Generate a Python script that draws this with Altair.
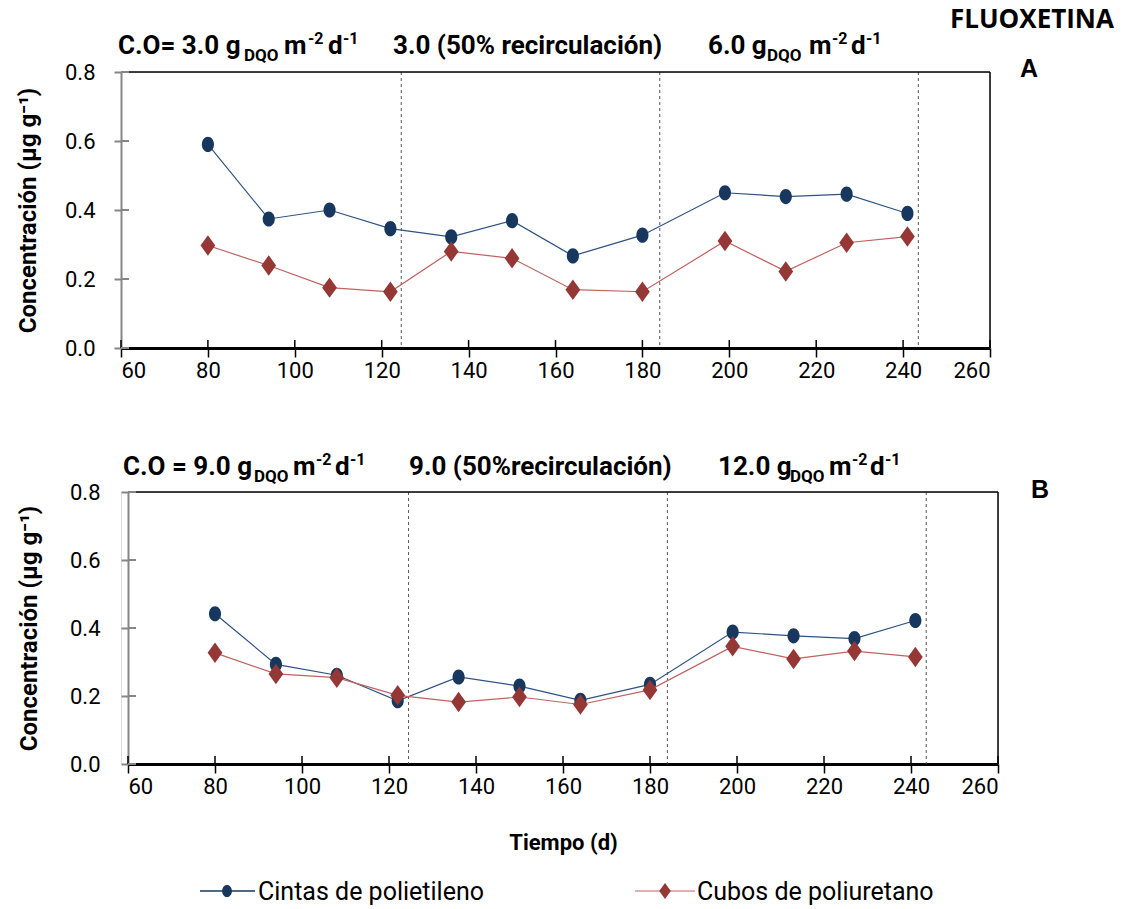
import altair as alt
import pandas as pd

# ---------------- data ----------------
days = [80, 94, 108, 122, 136, 150, 164, 180, 199, 213, 227, 241]
a_cintas = [0.590, 0.374, 0.400, 0.346, 0.322, 0.369, 0.267, 0.327, 0.450, 0.439, 0.446, 0.390]
a_cubos = [0.297, 0.239, 0.175, 0.163, 0.280, 0.260, 0.169, 0.163, 0.310, 0.222, 0.305, 0.323]
b_cintas = [0.442, 0.293, 0.261, 0.186, 0.256, 0.229, 0.187, 0.234, 0.388, 0.377, 0.369, 0.422]
b_cubos = [0.327, 0.265, 0.254, 0.202, 0.182, 0.197, 0.175, 0.218, 0.346, 0.309, 0.332, 0.315]
phase_lines = [124.5, 184.0, 243.5]
x_ticks = [60, 80, 100, 120, 140, 160, 180, 200, 220, 240, 260]
y_ticks = [0.0, 0.2, 0.4, 0.6, 0.8]
series_names = ["Cintas de polietileno", "Cubos de poliuretano"]

FONT = "Roboto"
BLUE_M = "#17375E"
BLUE_L = "#2F5283"
RED_M = "#953735"
RED_L = "#C0625F"
CIRCLE = "M-0.8,0A0.8,1 0 1,0 0.8,0A0.8,1 0 1,0 -0.8,0Z"
DIAMOND = "M0,-1L0.72,0L0,1L-0.72,0Z"

one = pd.DataFrame({"k": [0]})


def txt(x, y, s, size, weight="bold", font=FONT, align="left", color="black"):
    return alt.Chart(one).mark_text(
        text=s, fontSize=size, fontWeight=weight, font=font, align=align,
        baseline="alphabetic", color=color
    ).encode(x=alt.value(x), y=alt.value(y))


def title_pieces(pieces):
    return [txt(x, y, s, size) for (x, y, s, size) in pieces]


def panel(cintas, cubos, x0, W, H, pieces, extra, show_xtitle, ylabpad, ytitpad):
    """x0: left offset (px) of the plot area inside its cell; W: plot width."""
    df = pd.DataFrame({
        "dia": days + days,
        "conc": cintas + cubos,
        "serie": [series_names[0]] * len(days) + [series_names[1]] * len(days),
    })
    xenc = alt.X(
        "dia:Q",
        scale=alt.Scale(domain=[60, 260], nice=False, zero=False, range=[x0, x0 + W]),
        axis=alt.Axis(
            values=x_ticks, format="d", grid=False, domainColor="black", domainWidth=3,
            tickColor="black", tickWidth=1.5, tickSize=9, labelFontSize=22, labelFont=FONT,
            labelColor="black", labelPadding=3,
            title="Tiempo (d)" if show_xtitle else None,
            titleFont=FONT, titleFontSize=22, titleFontWeight="bold", titleColor="black",
            titlePadding=35,
        ),
    )
    yenc = alt.Y(
        "conc:Q",
        scale=alt.Scale(domain=[0, 0.8], nice=False),
        axis=alt.Axis(
            values=y_ticks, format=".1f", grid=False, domainColor="#868686", domainWidth=2,
            tickColor="#868686", tickWidth=2, tickSize=7, labelFontSize=22, labelFont=FONT,
            labelColor="black", labelPadding=ylabpad, offset=-x0,
            title="Concentración (µg g⁻¹)", titleFont=FONT, titleFontSize=24,
            titleFontWeight="bold", titleColor="black", titlePadding=ytitpad,
        ),
    )
    base = alt.Chart(df)
    blue = base.transform_filter(alt.datum.serie == series_names[0])
    red = base.transform_filter(alt.datum.serie == series_names[1])

    lines_v = alt.Chart(pd.DataFrame({"d": phase_lines})).mark_rule(
        color="#555555", strokeWidth=1, strokeDash=[3, 3]
    ).encode(x="d:Q", y=alt.value(0), y2=alt.value(H))

    # box (top and right edges)
    top_edge = alt.Chart(one).mark_rule(color="black", strokeWidth=1.5).encode(
        x=alt.value(x0), x2=alt.value(x0 + W), y=alt.value(0))
    right_edge = alt.Chart(one).mark_rule(color="black", strokeWidth=1.5).encode(
        x=alt.value(x0 + W), y=alt.value(0), y2=alt.value(H))

    xin = alt.Chart(pd.DataFrame({"t": x_ticks})).mark_rule(color="black", strokeWidth=1.5).encode(
        x="t:Q", y=alt.value(H - 8), y2=alt.value(H))
    yin = alt.Chart(pd.DataFrame({"t": y_ticks})).mark_rule(color="#868686", strokeWidth=2).encode(
        y="t:Q", x=alt.value(x0), x2=alt.value(x0 + 8))

    bl = blue.mark_line(color=BLUE_L, strokeWidth=1.2).encode(x=xenc, y=yenc)
    bp = blue.mark_point(shape=CIRCLE, size=230, filled=True, color=BLUE_M, opacity=1).encode(x="dia:Q", y="conc:Q")
    rl = red.mark_line(color=RED_L, strokeWidth=1.2).encode(x="dia:Q", y="conc:Q")
    rp = red.mark_point(shape=DIAMOND, size=420, filled=True, color=RED_M, opacity=1).encode(x="dia:Q", y="conc:Q")

    layers = [lines_v, top_edge, right_edge, bl, bp, rl, rp, xin, yin] + title_pieces(pieces) + extra
    return alt.layer(*layers).properties(width=x0 + W, height=H)


# ----- panel A annotations (pixel offsets relative to cell origin) -----
WA, HA = 869, 276
pieces_a = [
    (-3, -18, "C.O= 3.0 g", 26), (123, -11, "DQO", 17), (163, -18, "m", 26), (187, -28, "-2", 16),
    (207, -18, "d", 26), (222, -28, "-1", 16),
    (272, -18, "3.0 (50% recirculación)", 26),
    (587, -18, "6.0 g", 26), (646, -11, "DQO", 17), (688, -18, "m", 26), (711, -28, "-2", 16),
    (730, -18, "d", 26), (745, -28, "-1", 16),
]
extra_a = [
    txt(829, -44, "FLUOXETINA", 26, font="Open Sans"),
    txt(908, 5, "A", 25, font="Liberation Sans", align="center"),
]

# ----- panel B annotations -----
WB, HB = 870, 272
pieces_b = [
    (2, -17, "C.O = 9.0 g", 26), (133, -10, "DQO", 17), (172, -17, "m", 26), (195, -27, "-2", 16),
    (214, -17, "d", 26), (229, -27, "-1", 16),
    (288, -17, "9.0 (50%recirculación)", 26),
    (597, -17, "12.0 g", 26), (669, -10, "DQO", 17), (708, -17, "m", 26), (731, -27, "-2", 16),
    (749, -17, "d", 26), (764, -27, "-1", 16),
]
leg_y = 399
legend_b = [
    alt.Chart(one).mark_rule(color=BLUE_M, strokeWidth=1.5).encode(
        x=alt.value(79), x2=alt.value(134), y=alt.value(leg_y)),
    alt.Chart(one).mark_point(shape=CIRCLE, size=150, filled=True, color=BLUE_M, opacity=1).encode(
        x=alt.value(106), y=alt.value(leg_y)),
    txt(137, leg_y + 9, series_names[0], 25, weight="normal"),
    alt.Chart(one).mark_rule(color="#D99694", strokeWidth=1.5).encode(
        x=alt.value(514), x2=alt.value(574), y=alt.value(leg_y)),
    alt.Chart(one).mark_point(shape=DIAMOND, size=260, filled=True, color=RED_M, opacity=1).encode(
        x=alt.value(544), y=alt.value(leg_y)),
    txt(576, leg_y + 9, series_names[1], 25, weight="normal"),
    txt(919, 6, "B", 25, font="Liberation Sans", align="center"),
]

chart_a = panel(a_cintas, a_cubos, 0, WA, HA, pieces_a, extra_a, False, 19, 24)
chart_b = panel(b_cintas, b_cubos, 7, WB, HB, pieces_b, legend_b, True, 21, 28)

chart = alt.vconcat(chart_a, chart_b, spacing=69).properties(
    padding={"left": 15, "top": 6, "right": 0, "bottom": 0}
).configure_view(stroke="transparent").configure(background="white")

chart.save("out.html", embed_options={"renderer": "svg", "actions": False})
